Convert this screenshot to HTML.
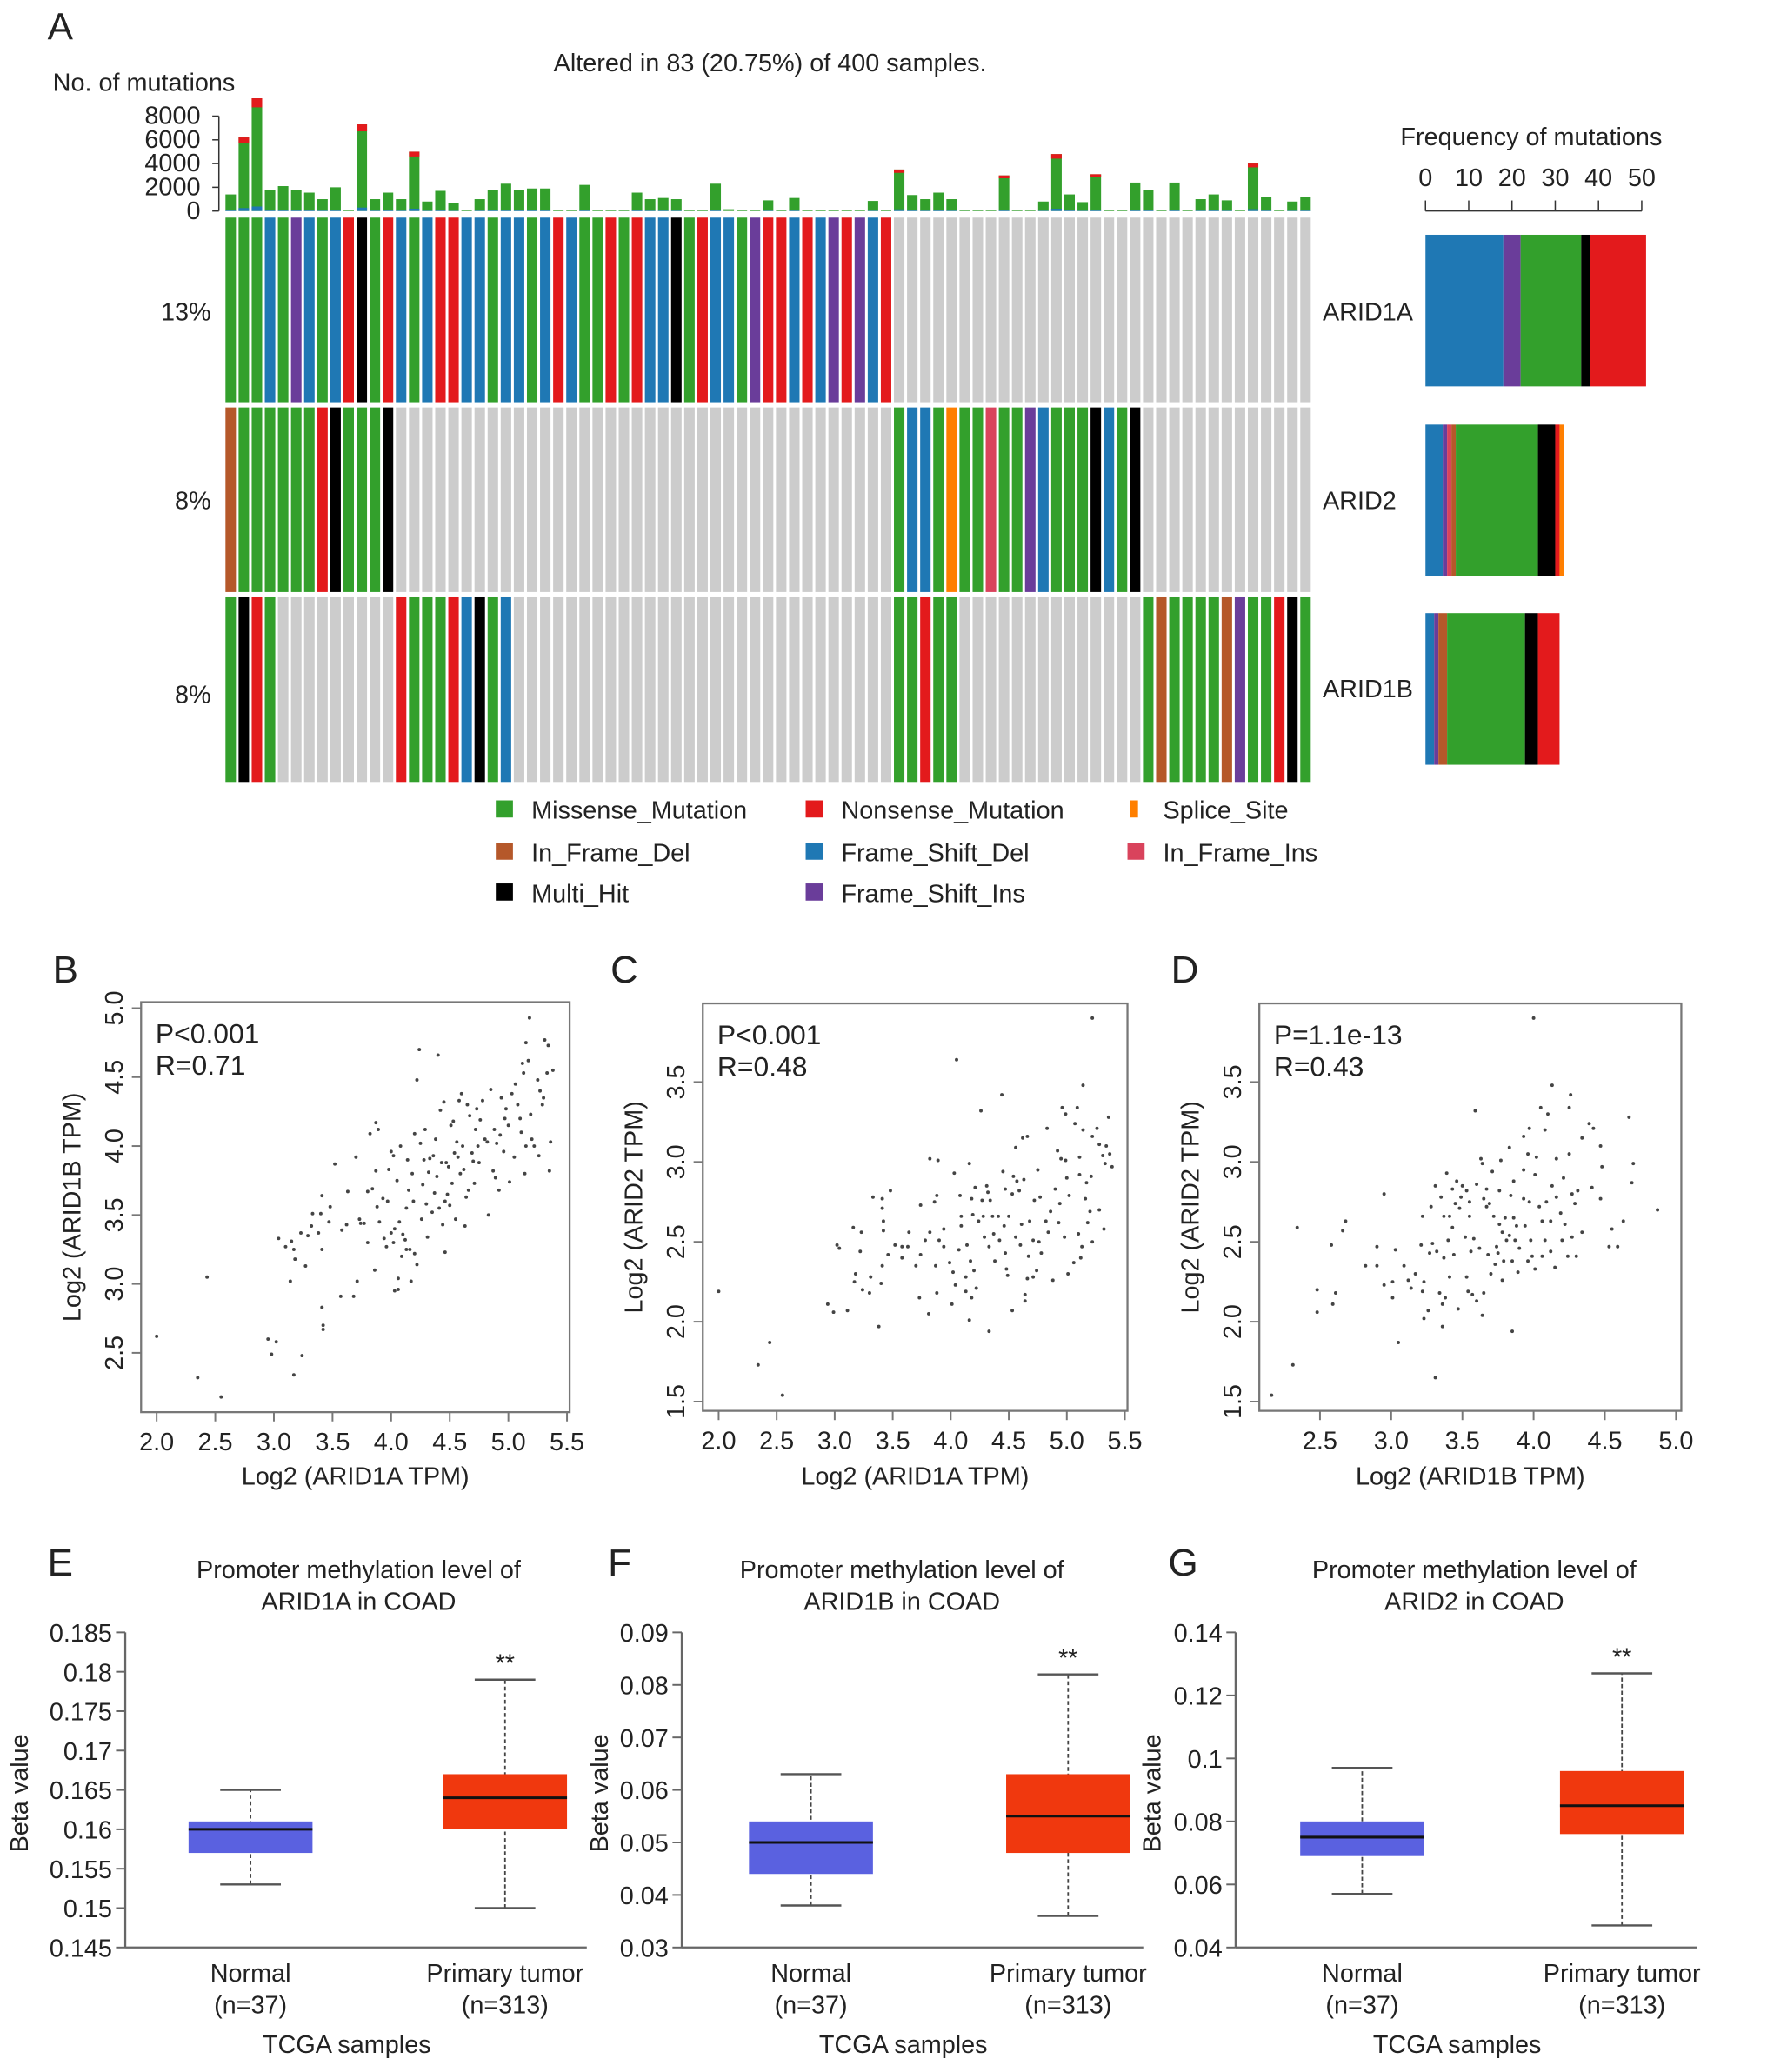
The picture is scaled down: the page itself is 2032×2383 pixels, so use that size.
<!DOCTYPE html>
<html><head><meta charset="utf-8"><style>
html,body{margin:0;padding:0;background:#fff}
svg{display:block}
text{font-family:"Liberation Sans",Arial,sans-serif;fill:#222}
</style></head><body>
<svg id="fig" xmlns="http://www.w3.org/2000/svg" width="2032" height="2383" viewBox="0 0 1340 1571.4">
<rect x="0" y="0" width="1340" height="1572" fill="#fff"/>
</svg>
<script>
// ---------- Panel A data ----------
const arid1a = ['G','G','G','B','G','P','B','G','B','R','K','G','R','B','G','B','R','R','B','B','G','B','B','G','B','R','B','G','G','R','G','R','B','B','K','G','R','B','B','G','P','R','R','B','R','B','P','R','P','B','R',
 'N','N','N','N','N','N','N','N','N','N','N','N','N','N','N','N','N','N','N','N','N','N','N','N','N','N','N','N','N','N','N','N'];
const arid2 = ['W','G','G','G','G','G','G','R','K','G','G','G','K',
 'N','N','N','N','N','N','N','N','N','N','N','N','N','N','N','N','N','N','N','N','N','N','N','N','N','N','N','N','N','N','N','N','N','N','N','N','N','N',
 'G','B','B','G','O','G','G','I','G','G','P','B','G','G','G','K','B','G','K',
 'N','N','N','N','N','N','N','N','N','N','N','N','N'];
const arid1b = ['G','K','R','G','N','N','N','N','N','N','N','N','N',
 'R','G','G','G','R','B','K','G','B',
 'N','N','N','N','N','N','N','N','N','N','N','N','N','N','N','N','N','N','N','N','N','N','N','N','N','N','N','N','N',
 'G','G','R','G','G',
 'N','N','N','N','N','N','N','N','N','N','N','N','N','N',
 'G','W','G','G','G','G','W','P','G','G','R','K','G'];
const tmb = [1400,6200,9500,1800,2100,1800,1550,1000,2000,100,7300,1000,1550,1000,5000,800,1700,650,100,1000,1800,2300,1800,1900,1900,80,80,2200,100,100,50,1550,1000,1100,1000,50,50,2300,150,50,50,900,50,1100,50,50,50,50,50,850,50,
 3500,1350,1000,1550,1000,50,50,100,3000,50,50,800,4800,1400,750,3100,50,50,2400,1800,50,2400,50,1000,1400,900,100,4000,1150,50,800,1150];
const tmbTicks = [0,2000,4000,6000,8000];
const freqTicks = [0,10,20,30,40,50];
const genes = ['ARID1A','ARID2','ARID1B'];
const genePct = ['13%','8%','8%'];

// ---------- Scatter data ----------
const ptsB = [[2.0,2.62],[2.35,2.32],[2.43,3.05],[2.55,2.18],[2.95,2.6],[2.98,2.49],[3.02,2.58],[3.17,2.34],[3.24,2.48],[3.42,2.67],[3.42,2.7],[3.41,2.83],[3.04,3.33],[3.1,3.27],[3.14,3.02],[3.15,3.31],[3.17,3.25],[3.18,3.18],[3.23,3.37],[3.27,3.13],[3.29,3.35],[3.32,3.42],[3.33,3.51],[3.38,3.37],[3.4,3.51],[3.41,3.25],[3.41,3.64],[3.47,3.45],[3.48,3.56],[3.52,3.87],[3.57,2.91],[3.58,3.39],[3.62,3.43],[3.63,3.67],[3.68,2.91],[3.7,3.92],[3.71,3.02],[3.73,3.47],[3.74,3.44],[3.77,3.44],[3.8,3.3],[3.8,3.67],[3.82,4.09],[3.84,3.69],[3.86,3.1],[3.87,3.82],[3.87,4.17],[3.88,3.56],[3.89,4.12],[3.9,3.45],[3.93,3.62],[3.94,3.33],[3.96,3.27],[3.97,3.6],[3.98,3.83],[4.0,3.37],[4.0,3.96],[4.02,3.93],[4.02,3.3],[4.03,2.95],[4.03,3.4],[4.05,3.75],[4.06,2.96],[4.06,3.04],[4.07,3.45],[4.08,4.0],[4.09,3.2],[4.1,3.36],[4.12,3.32],[4.13,3.25],[4.13,3.55],[4.14,3.9],[4.15,3.68],[4.16,3.25],[4.17,3.02],[4.18,3.8],[4.19,3.6],[4.2,4.09],[4.2,3.22],[4.22,3.14],[4.22,4.48],[4.24,4.7],[4.25,4.02],[4.26,3.47],[4.27,3.72],[4.28,3.9],[4.29,4.12],[4.3,3.58],[4.31,3.34],[4.32,3.81],[4.33,3.91],[4.35,3.52],[4.36,3.93],[4.37,3.66],[4.38,4.05],[4.39,3.78],[4.4,4.66],[4.41,3.55],[4.42,4.26],[4.43,3.88],[4.44,3.43],[4.45,4.32],[4.46,3.23],[4.46,3.6],[4.47,3.88],[4.48,3.65],[4.49,3.85],[4.5,3.57],[4.51,4.15],[4.52,3.73],[4.53,4.18],[4.54,3.95],[4.55,3.47],[4.56,4.03],[4.57,3.92],[4.58,4.33],[4.59,3.8],[4.6,4.38],[4.61,4.0],[4.62,3.83],[4.63,3.42],[4.64,3.63],[4.65,4.3],[4.66,3.68],[4.67,4.22],[4.69,3.95],[4.7,3.89],[4.71,3.73],[4.72,4.12],[4.73,4.27],[4.74,4.0],[4.75,3.88],[4.76,4.19],[4.78,4.33],[4.8,4.05],[4.82,4.03],[4.83,3.5],[4.85,4.41],[4.87,3.82],[4.88,4.12],[4.89,3.77],[4.9,4.02],[4.92,3.68],[4.93,4.08],[4.94,4.35],[4.96,3.96],[4.97,4.2],[4.98,4.27],[5.0,4.15],[5.01,3.74],[5.03,4.38],[5.05,3.92],[5.06,4.45],[5.08,4.3],[5.1,4.2],[5.11,4.1],[5.12,4.6],[5.13,4.53],[5.14,3.8],[5.15,4.75],[5.15,4.0],[5.17,4.62],[5.18,4.93],[5.19,4.23],[5.2,4.05],[5.22,4.0],[5.25,4.48],[5.26,3.93],[5.27,4.4],[5.29,4.3],[5.3,4.35],[5.31,4.77],[5.33,4.53],[5.34,4.73],[5.35,3.82],[5.36,4.03],[5.38,4.55]];
const ptsC = [[2.0,2.19],[2.34,1.73],[2.44,1.87],[2.55,1.54],[2.94,2.11],[2.99,2.06],[3.11,2.07],[3.02,2.48],[3.04,2.46],[3.16,2.59],[3.17,2.25],[3.18,2.30],[3.22,2.44],[3.23,2.56],[3.24,2.20],[3.30,2.18],[3.31,2.28],[3.33,2.78],[3.38,1.97],[3.41,2.77],[3.41,2.71],[3.42,2.63],[3.42,2.57],[3.41,2.35],[3.40,2.24],[3.46,2.42],[3.48,2.82],[3.52,2.48],[3.58,2.47],[3.58,2.40],[3.63,2.47],[3.64,2.56],[3.70,2.35],[3.73,2.15],[3.74,2.73],[3.74,2.42],[3.78,2.51],[3.81,2.05],[3.82,3.02],[3.82,2.56],[3.86,2.75],[3.87,2.35],[3.88,2.79],[3.88,2.18],[3.89,3.01],[3.90,2.51],[3.94,2.58],[3.94,2.47],[3.99,2.37],[4.01,2.11],[4.02,2.31],[4.03,2.93],[4.04,2.23],[4.05,3.64],[4.07,2.45],[4.08,2.79],[4.09,2.66],[4.09,2.60],[4.13,2.28],[4.13,2.19],[4.14,2.48],[4.16,2.01],[4.16,2.99],[4.17,2.38],[4.18,2.77],[4.18,2.15],[4.19,2.67],[4.20,2.32],[4.21,2.84],[4.22,2.21],[4.24,2.63],[4.26,3.32],[4.27,2.76],[4.28,2.66],[4.29,2.53],[4.31,2.85],[4.32,2.81],[4.33,1.94],[4.33,2.47],[4.34,2.76],[4.36,2.66],[4.37,2.55],[4.38,2.38],[4.41,2.66],[4.42,2.51],[4.44,3.42],[4.45,2.94],[4.46,2.60],[4.47,2.83],[4.47,2.43],[4.48,2.33],[4.49,2.29],[4.50,2.66],[4.53,2.07],[4.53,2.80],[4.54,2.91],[4.56,3.09],[4.56,2.53],[4.57,2.88],[4.59,2.82],[4.60,2.48],[4.61,2.61],[4.62,3.15],[4.63,2.89],[4.64,2.17],[4.64,2.13],[4.66,3.16],[4.66,2.27],[4.67,2.41],[4.68,2.63],[4.71,2.28],[4.71,2.51],[4.72,2.76],[4.74,2.32],[4.75,2.95],[4.76,2.50],[4.77,2.78],[4.78,2.43],[4.82,2.63],[4.83,3.21],[4.84,2.56],[4.86,2.69],[4.88,2.26],[4.90,2.83],[4.92,3.07],[4.93,2.62],[4.94,2.74],[4.95,3.02],[4.96,3.34],[4.98,2.53],[4.99,3.30],[4.99,3.01],[5.00,2.90],[5.01,2.30],[5.02,2.79],[5.06,2.37],[5.07,3.24],[5.09,3.34],[5.10,2.55],[5.11,3.03],[5.11,2.92],[5.12,2.40],[5.13,2.47],[5.14,3.20],[5.14,3.48],[5.16,2.77],[5.17,2.87],[5.18,2.62],[5.20,2.69],[5.21,2.91],[5.22,3.90],[5.22,2.50],[5.22,3.16],[5.26,3.21],[5.28,3.11],[5.28,2.70],[5.31,3.04],[5.32,2.58],[5.33,2.99],[5.34,3.10],[5.36,3.28],[5.37,3.05],[5.39,2.97]];
const ptsD = [[2.16,1.54],[2.31,1.73],[2.34,2.59],[2.48,2.20],[2.48,2.06],[2.58,2.48],[2.59,2.11],[2.61,2.18],[2.66,2.57],[2.68,2.63],[2.82,2.35],[2.90,2.47],[2.90,2.35],[2.95,2.80],[2.95,2.23],[3.01,2.25],[3.01,2.15],[3.03,2.45],[3.05,1.87],[3.09,2.35],[3.12,2.26],[3.14,2.21],[3.17,2.30],[3.21,2.48],[3.22,2.66],[3.22,2.19],[3.23,2.25],[3.23,2.02],[3.26,2.07],[3.27,2.43],[3.28,2.72],[3.29,2.49],[3.31,1.65],[3.31,2.85],[3.32,2.44],[3.34,2.18],[3.35,2.78],[3.36,2.11],[3.36,1.97],[3.37,2.66],[3.37,2.40],[3.38,2.15],[3.39,2.93],[3.40,2.51],[3.41,2.28],[3.41,2.66],[3.43,2.59],[3.43,2.83],[3.44,2.42],[3.45,2.74],[3.46,2.88],[3.47,2.08],[3.48,2.71],[3.49,2.78],[3.50,2.85],[3.52,2.53],[3.53,2.28],[3.53,2.82],[3.54,2.19],[3.55,2.66],[3.55,2.75],[3.56,2.44],[3.57,2.17],[3.58,2.52],[3.59,3.32],[3.60,2.86],[3.60,2.13],[3.62,2.46],[3.63,3.02],[3.64,2.04],[3.64,2.99],[3.65,2.77],[3.65,2.18],[3.67,2.72],[3.67,2.83],[3.68,2.42],[3.69,2.74],[3.70,2.30],[3.71,2.94],[3.72,2.66],[3.73,2.36],[3.74,2.47],[3.75,2.43],[3.76,2.82],[3.76,2.61],[3.77,3.01],[3.78,2.26],[3.78,2.56],[3.79,2.38],[3.80,2.65],[3.81,2.51],[3.83,2.54],[3.83,3.09],[3.84,2.79],[3.85,1.94],[3.85,2.38],[3.86,2.65],[3.86,2.88],[3.87,2.51],[3.88,2.60],[3.89,2.31],[3.90,2.46],[3.93,2.95],[3.93,2.77],[3.93,3.16],[3.94,2.60],[3.96,3.05],[3.96,2.38],[3.97,3.21],[3.97,2.75],[3.98,2.51],[3.99,2.41],[4.00,3.90],[4.01,2.92],[4.01,2.33],[4.02,3.03],[4.04,2.72],[4.05,3.34],[4.06,2.63],[4.06,2.41],[4.08,2.51],[4.08,3.20],[4.09,2.75],[4.10,3.30],[4.12,2.44],[4.12,2.63],[4.13,3.48],[4.13,2.85],[4.15,2.34],[4.16,3.02],[4.16,2.78],[4.19,2.68],[4.20,2.51],[4.21,2.90],[4.22,2.61],[4.24,2.41],[4.25,3.34],[4.25,3.05],[4.26,3.42],[4.27,2.80],[4.27,2.53],[4.29,2.74],[4.30,2.41],[4.31,2.82],[4.34,3.15],[4.34,2.56],[4.39,3.24],[4.41,2.84],[4.42,3.21],[4.47,3.10],[4.47,2.77],[4.48,2.97],[4.53,2.47],[4.55,2.58],[4.59,2.47],[4.63,2.63],[4.67,3.28],[4.69,2.87],[4.70,2.99],[4.87,2.70]];
const xTicksBC = [2.0,2.5,3.0,3.5,4.0,4.5,5.0,5.5];
const yTicksB = [2.5,3.0,3.5,4.0,4.5,5.0];
const yTicksCD = [1.5,2.0,2.5,3.0,3.5];
const xTicksD = [2.5,3.0,3.5,4.0,4.5,5.0];

// ---------- Boxplot data: [lowWhisker, q1, median, q3, highWhisker] ----------
const boxE_normal = [0.153,0.157,0.160,0.161,0.165];
const boxE_tumor  = [0.150,0.160,0.164,0.167,0.179];
const boxF_normal = [0.038,0.044,0.050,0.054,0.063];
const boxF_tumor  = [0.036,0.048,0.055,0.063,0.082];
const boxG_normal = [0.057,0.069,0.075,0.080,0.097];
const boxG_tumor  = [0.047,0.076,0.085,0.096,0.127];
const ticksE = [0.145,0.15,0.155,0.16,0.165,0.17,0.175,0.18,0.185];
const ticksF = [0.03,0.04,0.05,0.06,0.07,0.08,0.09];
const ticksG = [0.04,0.06,0.08,0.1,0.12,0.14];

const NS='http://www.w3.org/2000/svg';
const svg=document.getElementById('fig');
const FS=19;
function el(tag,attrs,parent){const e=document.createElementNS(NS,tag);for(const k in attrs)e.setAttribute(k,attrs[k]);(parent||svg).appendChild(e);return e;}
function txt(s,x,y,size,anchor,parent,extra){const t=el('text',Object.assign({x:x,y:y,'font-size':size,'text-anchor':anchor||'start'},extra||{}),parent);t.textContent=s;return t;}
function grp(name){const g=el('g',{});return g;}

const COL={G:'#33a02c',R:'#e31a1c',O:'#ff7f00',W:'#b5582a',B:'#1f78b4',I:'#d9435c',K:'#000000',P:'#6a3d9a',N:'#cccccc'};

// ===== Panel A =====
const gA=grp('panel-a-oncoplot');
let t=txt('A',36,30,29,'start',gA);
t=txt('No. of mutations',40,69,FS,'start',gA);
t=txt('Altered in 83 (20.75%) of 400 samples.',584,54,FS,'middle',gA);

const x0=170, x1=995, nCol=tmb.length, pitch=(x1-x0)/nCol, bw=pitch-2;
const colX=i=>x0+i*pitch+1;
const tmbY=v=>160-v*72/8000;
const gT=grp('tmb-bar-chart');gA.appendChild(gT);
el('line',{x1:166,y1:tmbY(8000),x2:166,y2:tmbY(0),stroke:'#333','stroke-width':1},gT);
tmbTicks.forEach(v=>{el('line',{x1:161,y1:tmbY(v),x2:166,y2:tmbY(v),stroke:'#333'},gT);
 const l=txt(String(v),152,tmbY(v)+6,FS,'end',gT);});
tmb.forEach((v,i)=>{
 const b=el('rect',{x:colX(i),y:tmbY(v),width:bw,height:tmbY(0)-tmbY(v),fill:COL.G},gT);
 
 if(v>2500){el('rect',{x:colX(i),y:tmbY(v),width:bw,height:(tmbY(0)-tmbY(v))*0.08,fill:COL.R},gT);}
 if(v>500){el('rect',{x:colX(i),y:tmbY(v*0.04),width:bw,height:tmbY(0)-tmbY(v*0.04),fill:COL.B},gT);}
});
const rows=[arid1a,arid2,arid1b], rowY=[165,309,453], rowH=140, rowLabY=[243,386,533], geneLabY=[243,386,529];
const gO=grp('oncoprint-matrix');gA.appendChild(gO);
rows.forEach((row,r)=>{
 row.forEach((c,i)=>{const cell=el('rect',{x:colX(i),y:rowY[r],width:bw,height:rowH,fill:COL[c]},gO);
  });
 let p=txt(genePct[r],160,rowLabY[r],FS,'end',gA);
 let g=txt(genes[r],1003,geneLabY[r],FS,'start',gA);
});
const gF=grp('mutation-frequency-chart');gA.appendChild(gF);
const fx=v=>1081+v*3.28;
t=txt('Frequency of mutations',1062,110,FS,'start',gF);
el('line',{x1:fx(0),y1:160,x2:fx(50),y2:160,stroke:'#333'},gF);
freqTicks.forEach(v=>{el('line',{x1:fx(v),y1:152,x2:fx(v),y2:160,stroke:'#333'},gF);
 const l=txt(String(v),fx(v),141,FS,'middle',gF);});
const order=['B','P','I','W','G','K','R','O'];
const fy=[178,322,465], fh=115;
rows.forEach((row,r)=>{let acc=0;
 order.forEach(c=>{const n=row.filter(v=>v===c).length;if(!n)return;
  const s=el('rect',{x:fx(acc),y:fy[r],width:n*3.28,height:fh,fill:COL[c]},gF);
  acc+=n;});
});
const legend=[['Missense_Mutation','G',376,621],['Nonsense_Mutation','R',611,621],['Splice_Site','O',855,621],
 ['In_Frame_Del','W',376,653],['Frame_Shift_Del','B',611,653],['In_Frame_Ins','I',855,653],
 ['Multi_Hit','K',376,684],['Frame_Shift_Ins','P',611,684]];
const gL=grp('mutation-legend');gA.appendChild(gL);
legend.forEach(([lab,c,x,y])=>{const g=el('g',{},gL);
 
 el('rect',{x:c==='O'?x+2:x,y:y-14,width:c==='O'?6:13,height:13,fill:COL[c]},g);
 txt(lab,x+27,y,FS,'start',g);});

// ===== Scatter panels =====
function scatter(name,label,lx,box,xr,yr,xTicks,yTicks,pts,ptxt,rtxt,xlab,ylab){
 const g=grp(name);
 const sx=v=>xr[2]+(v-xr[0])*(xr[3]-xr[2])/(xr[1]-xr[0]);
 const sy=v=>yr[2]+(v-yr[0])*(yr[3]-yr[2])/(yr[1]-yr[0]);
 let l=txt(label,lx,745,29,'start',g);
 const r=el('rect',{x:box[0],y:box[1],width:box[2]-box[0],height:box[3]-box[1],fill:'none',stroke:'#777','stroke-width':1.5},g);
 
 xTicks.forEach(v=>{el('line',{x1:sx(v),y1:box[3],x2:sx(v),y2:box[3]+7,stroke:'#777','stroke-width':1.3},g);
  const tl=txt(v.toFixed(1),sx(v),box[3]+29,FS,'middle',g);});
 yTicks.forEach(v=>{el('line',{x1:box[0]-7,y1:sy(v),x2:box[0],y2:sy(v),stroke:'#777','stroke-width':1.3},g);
  const tl=txt(v.toFixed(1),box[0]-14,sy(v),FS,'middle',g,{transform:`rotate(-90 ${box[0]-14} ${sy(v)})`});
  });
 pts.forEach(p=>{const c=el('circle',{cx:sx(p[0]),cy:sy(p[1]),r:1.3,fill:'#444'},g);
  });
 l=txt(ptxt,box[0]+11,box[1]+31,21,'start',g);
 l=txt(rtxt,box[0]+11,box[1]+55,21,'start',g);
 l=txt(xlab,(box[0]+box[2])/2,1126,FS,'middle',g);
 const ycx=box[0]-46, ycy=(box[1]+box[3])/2;
 l=txt(ylab,ycx,ycy,FS,'middle',g,{transform:`rotate(-90 ${ycx} ${ycy})`});
}
scatter('panel-b-scatter','B',40,[107,760,432,1071],[2.0,5.5,118.8,430],[2.5,5.0,1026,764.6],xTicksBC,yTicksB,ptsB,'P<0.001','R=0.71','Log2 (ARID1A TPM)','Log2 (ARID1B TPM)');
scatter('panel-c-scatter','C',463,[533,761,855,1070],[2.0,5.5,545,853],[1.5,3.5,1063,820.6],xTicksBC,yTicksCD,ptsC,'P<0.001','R=0.48','Log2 (ARID1A TPM)','Log2 (ARID2 TPM)');
scatter('panel-d-scatter','D',888,[955,761,1275,1070],[2.5,5.0,1001,1271],[1.5,3.5,1063,820.6],xTicksD,yTicksCD,ptsD,'P=1.1e-13','R=0.43','Log2 (ARID1B TPM)','Log2 (ARID2 TPM)');

// ===== Box plot panels =====
function boxplot(name,label,lx,ax,ticks,dec,nBox,tBox,title2,tcx,ncx,tucx,ylOff){
 const g=grp(name);
 const lo=ticks[0],hi=ticks[ticks.length-1];
 const sy=v=>1477-(v-lo)*(1477-1238)/(hi-lo);
 let l=txt(label,lx,1195,29,'start',g);
 l=txt('Promoter methylation level of',tcx,1197,FS,'middle',g);
 l=txt(title2,tcx,1221,FS,'middle',g);
 el('line',{x1:ax,y1:sy(hi),x2:ax,y2:sy(lo),stroke:'#666','stroke-width':1.5},g);
 el('line',{x1:ax,y1:sy(lo),x2:ax+350,y2:sy(lo),stroke:'#666','stroke-width':1.5},g);
 ticks.forEach(v=>{el('line',{x1:ax-7,y1:sy(v),x2:ax,y2:sy(v),stroke:'#666','stroke-width':1.3},g);
  const tl=txt(String(+v.toFixed(dec)),ax-10,sy(v)+7,FS,'end',g);});
 const yl=ax-ylOff, ym=1360;
 l=txt('Beta value',yl,ym,FS,'middle',g,{transform:`rotate(-90 ${yl} ${ym})`});
 [[nBox,ncx,'#5a61e0','normal-box'],[tBox,tucx,'#f0380e','tumor-box']].forEach(([b,cx,col,nm])=>{
  const bg=el('g',{},g);
  el('line',{x1:cx,y1:sy(b[0]),x2:cx,y2:sy(b[4]),stroke:'#444','stroke-width':1.2,'stroke-dasharray':'3,2'},bg);
  el('line',{x1:cx-23,y1:sy(b[0]),x2:cx+23,y2:sy(b[0]),stroke:'#555','stroke-width':1.6},bg);
  el('line',{x1:cx-23,y1:sy(b[4]),x2:cx+23,y2:sy(b[4]),stroke:'#555','stroke-width':1.6},bg);
  el('rect',{x:cx-47,y:sy(b[3]),width:94,height:sy(b[1])-sy(b[3]),fill:col},bg);
  el('line',{x1:cx-47,y1:sy(b[2]),x2:cx+47,y2:sy(b[2]),stroke:'#111','stroke-width':2},bg);
 });
 l=txt('**',tucx,sy(tBox[4])-6,19,'middle',g);
 l=txt('Normal',ncx,1503,FS,'middle',g);
 txt('(n=37)',ncx,1527,FS,'middle',g);
 l=txt('Primary tumor',tucx,1503,FS,'middle',g);
 txt('(n=313)',tucx,1527,FS,'middle',g);
 l=txt('TCGA samples',(ax+ax+350)/2-7,1557,FS,'middle',g);
}
boxplot('panel-e-boxplot','E',36,95,ticksE,3,boxE_normal,boxE_tumor,'ARID1A in COAD',272,190,383,74);
boxplot('panel-f-boxplot','F',461,517,ticksF,2,boxF_normal,boxF_tumor,'ARID1B in COAD',684,615,810,56);
boxplot('panel-g-boxplot','G',886,937,ticksG,2,boxG_normal,boxG_tumor,'ARID2 in COAD',1118,1033,1230,57);
</script>
</body></html>
